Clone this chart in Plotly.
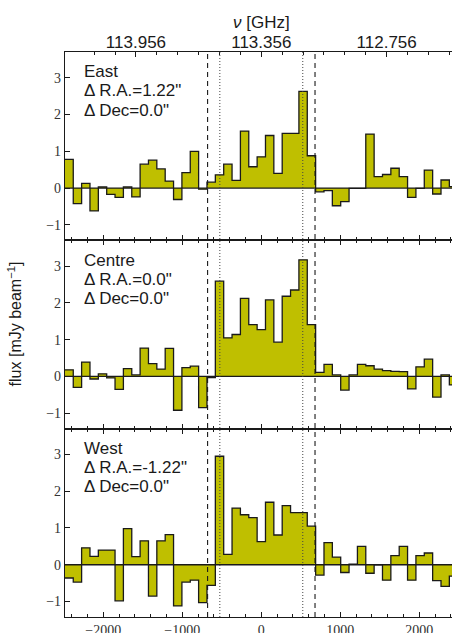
import plotly.graph_objects as go

# Spectral channels: 40 MHz wide (~105.8 km/s at 113.356 GHz), centred on 0 km/s
chan_width = 105.8
channels = list(range(-23, 24))
velocity = [k * chan_width for k in channels]

# Flux density per channel [mJy/beam]
east = [0.78, -0.42, 0.13, -0.62, 0.03, -0.17, -0.25, 0.03, -0.24, 0.65,
        0.76, 0.52, 0.19, -0.31, 0.42, 1.00, -0.03, 0.16, 0.36, 0.65,
        0.21, 1.55, 0.58, 0.85, 1.43, 0.40, 1.49, 1.49, 2.63, 0.88,
        -0.10, -0.07, -0.48, -0.37, -0.01, -0.01, 1.47, 0.31, 0.37, 0.54,
        0.31, -0.25, -0.01, 0.49, -0.16, 0.22, 0.04]
centre = [0.18, -0.30, 0.39, -0.07, 0.07, -0.04, -0.35, 0.21, 0.04, 0.77,
          0.35, 0.20, 0.76, -0.92, 0.24, 0.28, -0.85, -0.03, 2.59, 1.05,
          1.14, 2.12, 1.41, 1.27, 2.08, 0.93, 2.18, 2.35, 3.17, 1.41,
          0.11, 0.33, 0.04, -0.37, 0.04, 0.33, 0.29, 0.20, 0.16, 0.14,
          0.13, -0.34, 0.26, 0.47, -0.56, 0.04, -0.23]
west = [-0.36, -0.47, 0.46, 0.23, 0.40, 0.40, -0.98, 0.98, 0.22, 0.65,
        -0.85, 0.65, 0.82, -1.12, -0.47, -0.42, -1.03, -0.56, 2.95, 0.28,
        1.54, 1.36, 1.28, 0.63, 1.70, 0.81, 1.61, 1.42, 1.42, 1.05,
        -0.28, 0.60, 0.21, -0.21, 0.02, 0.50, -0.23, 0.00, -0.42, 0.25,
        0.50, -0.42, 0.25, 0.32, -0.43, -0.59, -0.31]

panel_names = ["East", "Centre", "West"]
panel_ra = ['1.22"', '0.0"', '-1.22"']
panel_dec = ['0.0"', '0.0"', '0.0"']
panel_flux = [east, centre, west]

# Top axis: observed frequency [GHz]
nu0 = 113.356
freq_labels = [113.956, 113.356, 112.756]
freq_minor = [round(113.956 - 0.1 * i, 3) for i in range(-2, 16)]
c_kms = 299792.458

# Velocity window markers [km/s]
dashed_v = [-680, 680]
dotted_v = [-525, 525]

FILL = "#bfbf00"
INK = "#1a1a1a"
SANS = "Liberation Sans, Arial, sans-serif"
SERIF = "Liberation Serif, Times New Roman, serif"
XRANGE = [-2485, 2414]
YRANGE = [-1.42, 3.70]


def freq_to_vel(f):
    return c_kms * (1.0 - f / nu0)


fig = go.Figure()

# panel index 0 is the top panel; axis suffixes: top -> 3, middle -> 2, bottom -> ""
suffixes = ["3", "2", ""]
domains = [[2 / 3, 1.0], [1 / 3, 2 / 3], [0.0, 1 / 3]]

for i, vals in enumerate(panel_flux):
    sfx = suffixes[i]
    edges = [v - chan_width / 2 for v in velocity] + [velocity[-1] + chan_width / 2]
    yy = list(vals) + [vals[-1]]
    fig.add_trace(go.Scatter(
        x=edges, y=yy, mode="lines",
        line=dict(shape="hv", color=INK, width=1.3),
        fill="tozeroy", fillcolor=FILL,
        xaxis="x" + sfx, yaxis="y" + sfx,
        showlegend=False, hoverinfo="skip",
    ))

# carrier for the frequency axis on top
fig.add_trace(go.Scatter(x=[0], y=[0], mode="markers", marker=dict(opacity=0),
                         xaxis="x4", yaxis="y3", showlegend=False, hoverinfo="skip"))

xcommon = dict(range=XRANGE, showline=True, linecolor=INK, linewidth=1.3,
               ticks="inside", ticklen=5, tickwidth=1, tickcolor=INK,
               tick0=0, dtick=1000,
               minor=dict(ticks="inside", dtick=200, ticklen=3, tickcolor=INK, tickwidth=1),
               showgrid=False, zeroline=False, automargin=False)
ycommon = dict(range=YRANGE, showline=True, linecolor=INK, linewidth=1.3,
               ticks="inside", ticklen=5, tickwidth=1, tickcolor=INK,
               tickvals=[-1, 0, 1, 2, 3], ticktext=["\u22121", "0", "1", "2", "3"],
               tickfont=dict(family=SERIF, size=14, color="#333333"),
               showgrid=False, zeroline=False, mirror=False, automargin=False)

layout = dict(
    width=452, height=633,
    margin=dict(l=65, r=0, t=52, b=16),
    paper_bgcolor="white", plot_bgcolor="white",
    showlegend=False,
)
for i, sfx in enumerate(suffixes):
    xa = dict(xcommon)
    xa["anchor"] = "y" + sfx
    xa["domain"] = [0, 1]
    if sfx == "":
        xa["mirror"] = "ticks"
        xa["tickfont"] = dict(family=SERIF, size=14, color="#333333")
        xa["ticklabelstandoff"] = 0
    else:
        xa["matches"] = "x"
        xa["showticklabels"] = False
        xa["mirror"] = True if sfx == "3" else "ticks"
    layout["xaxis" + sfx] = xa
    ya = dict(ycommon)
    ya["anchor"] = "x" + sfx
    ya["domain"] = domains[i]
    layout["yaxis" + sfx] = ya

layout["xaxis4"] = dict(
    overlaying="x3", side="top", anchor="y3", range=XRANGE,
    tickvals=[freq_to_vel(f) for f in freq_labels],
    ticktext=["%.3f" % f for f in freq_labels],
    ticks="inside", ticklen=5, tickwidth=1, tickcolor=INK,
    minor=dict(tickvals=[freq_to_vel(f) for f in freq_minor], ticks="inside",
               ticklen=3, tickcolor=INK, tickwidth=1),
    tickfont=dict(family=SANS, size=17, color=INK),
    showgrid=False, zeroline=False, showline=False, automargin=False,
)
fig.update_layout(**layout)

shapes = []
for i, sfx in enumerate(suffixes):
    shapes.append(dict(type="line", xref="x" + sfx + " domain",
                       yref="y" + sfx, x0=0, x1=1, y0=0, y1=0,
                       line=dict(color=INK, width=1.3), layer="above"))
for v in dashed_v:
    shapes.append(dict(type="line", xref="x", yref="paper", x0=v, x1=v, y0=0, y1=1,
                       line=dict(color=INK, width=1.1, dash="5px,4px"), layer="above"))
for v in dotted_v:
    shapes.append(dict(type="line", xref="x", yref="paper", x0=v, x1=v, y0=0, y1=1,
                       line=dict(color="#444444", width=1, dash="1px,2px"), layer="above"))
fig.update_layout(shapes=shapes)

annotations = []
line_pos = [0.895, 0.794, 0.692]
for i, sfx in enumerate(suffixes):
    lines = [panel_names[i],
             "\u0394 R.A.=" + panel_ra[i],
             "\u0394 Dec=" + panel_dec[i]]
    for txt, yp in zip(lines, line_pos):
        annotations.append(dict(
            text=txt, xref="x" + sfx + " domain", yref="y" + sfx + " domain",
            x=0.043, y=yp, xanchor="left", yanchor="middle", showarrow=False,
            font=dict(family=SANS, size=17, color=INK)))

annotations.append(dict(text="flux [mJy beam<sup>\u22121</sup>]", xref="paper", yref="paper",
                        x=-0.129, y=0.518, xanchor="center", yanchor="middle",
                        textangle=-90, showarrow=False,
                        font=dict(family=SANS, size=16, color=INK)))
annotations.append(dict(text="<i>\u03bd</i> [GHz]", xref="paper", yref="paper",
                        x=0.509, y=1.053, xanchor="center", yanchor="middle",
                        showarrow=False, font=dict(family=SANS, size=17, color=INK)))
fig.update_layout(annotations=annotations)

fig.write_html("out.html")
